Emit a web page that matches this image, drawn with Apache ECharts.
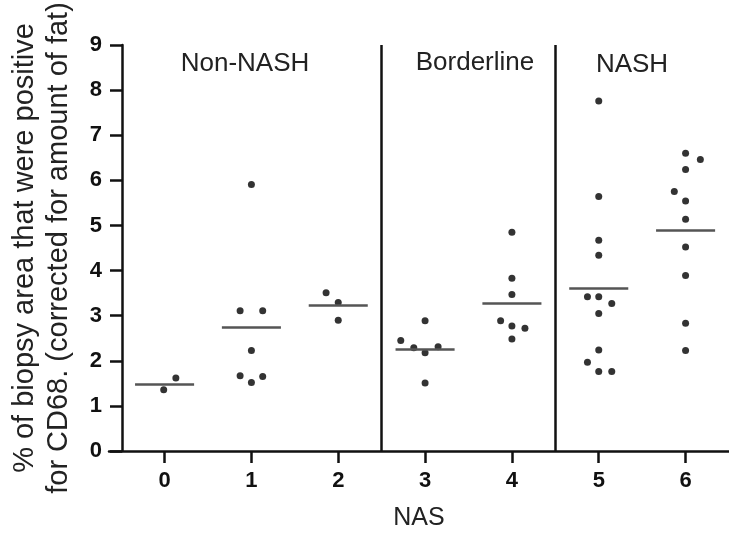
<!DOCTYPE html>
<html>
<head>
<meta charset="utf-8">
<script src="https://cdn.jsdelivr.net/npm/echarts@6/dist/echarts.min.js"></script>
<style>
  html, body { margin: 0; padding: 0; background: #fff; }
  #chart { width: 729px; height: 536px; }
</style>
</head>
<body>
<div id="chart"></div>
<script>
  // points: [x position (with jitter), value]
  var nas0 = [[0.13, 1.62], [-0.01, 1.36]]
  var nas1 = [[1.0, 5.91], [0.87, 3.11], [1.13, 3.11], [1.0, 2.23], [0.87, 1.67], [1.13, 1.65], [1.0, 1.52]]
  var nas2 = [[1.86, 3.51], [2.0, 3.29], [2.0, 2.90]]
  var nas3 = [[3.0, 2.89], [2.72, 2.45], [2.87, 2.29], [3.0, 2.18], [3.15, 2.31], [3.0, 1.51]]
  var nas4 = [[4.0, 4.85], [4.0, 3.83], [4.0, 3.47], [3.87, 2.89], [4.0, 2.77], [4.15, 2.72], [4.0, 2.48]]
  var nas5 = [[5.0, 7.76], [5.0, 5.64], [5.0, 4.67], [5.0, 4.34], [4.87, 3.42], [5.0, 3.42], [5.15, 3.27],
              [5.0, 3.05], [5.0, 2.24], [4.87, 1.97], [5.0, 1.76], [5.15, 1.76]]
  var nas6 = [[6.0, 6.60], [6.17, 6.46], [6.0, 6.24], [5.87, 5.75], [6.0, 5.54], [6.0, 5.14], [6.0, 4.52],
              [6.0, 3.89], [6.0, 2.83], [6.0, 2.23]]

  var nasScores = [0, 1, 2, 3, 4, 5, 6]
  var means = [1.48, 2.74, 3.23, 2.25, 3.27, 3.60, 4.90]
  var yTicks = [0, 1, 2, 3, 4, 5, 6, 7, 8, 9]
  var groupBreaks = [2.5, 4.5]
  var groupNames = ['Non-NASH', 'Borderline', 'NASH']

  var allPoints = [].concat(nas0, nas1, nas2, nas3, nas4, nas5, nas6)
  var halfWidth = 0.34

  var chart = echarts.init(document.getElementById('chart'))

  var meanLines = means.map(function (m, i) {
    return [{coord: [nasScores[i] - halfWidth, m]}, {coord: [nasScores[i] + halfWidth, m]}]
  })
  var breakLines = groupBreaks.map(function (b) {
    return [{coord: [b, yTicks[0]]}, {coord: [b, yTicks[yTicks.length - 1]]}]
  })

  function groupLabel(text, x, y) {
    return {
      type: 'text', x: x, y: y,
      style: {text: text, fontSize: 26, fill: '#222', align: 'center', verticalAlign: 'middle', fontFamily: 'Liberation Sans'}
    }
  }

  chart.setOption({
    animation: false,
    textStyle: {fontFamily: 'Liberation Sans, Arial, sans-serif'},
    grid: {left: 103, right: 0, top: 45, bottom: 83},
    xAxis: {
      type: 'value',
      min: -0.64,
      max: 6.5,
      name: 'NAS',
      nameLocation: 'middle',
      nameGap: 55,
      nameTextStyle: {fontSize: 25, color: '#222'},
      splitLine: {show: false},
      axisLine: {onZero: false, lineStyle: {color: '#111', width: 2.5}},
      axisTick: {customValues: nasScores, length: 12, lineStyle: {color: '#111', width: 2.5}},
      axisLabel: {customValues: nasScores, fontSize: 22, fontWeight: 'bold', color: '#111', margin: 19}
    },
    yAxis: {
      type: 'value',
      min: 0,
      max: 9,
      interval: 1,
      offset: -13,
      name: '% of biopsy area that were positive\nfor CD68. (corrected for amount of fat)',
      nameLocation: 'middle',
      nameGap: 46,
      nameTextStyle: {fontSize: 29, color: '#222', lineHeight: 34},
      splitLine: {show: false},
      axisLine: {show: true, onZero: false, lineStyle: {color: '#111', width: 2.5}},
      axisTick: {show: true, length: 12, lineStyle: {color: '#111', width: 2.5}},
      axisLabel: {fontSize: 22, fontWeight: 'bold', color: '#111', margin: 20}
    },
    graphic: [
      groupLabel(groupNames[0], 245, 64),
      groupLabel(groupNames[1], 475, 63),
      groupLabel(groupNames[2], 632, 65)
    ],
    series: [
      {
        type: 'scatter',
        data: allPoints,
        symbolSize: 7,
        itemStyle: {color: '#000'},
        markLine: {
          silent: true,
          symbol: 'none',
          label: {show: false},
          lineStyle: {color: '#555', width: 2.5, type: 'solid'},
          data: meanLines
        }
      },
      {
        type: 'scatter',
        data: [],
        markLine: {
          silent: true,
          symbol: 'none',
          label: {show: false},
          lineStyle: {color: '#111', width: 2.5, type: 'solid'},
          data: breakLines
        }
      }
    ]
  })
</script>
</body>
</html>
